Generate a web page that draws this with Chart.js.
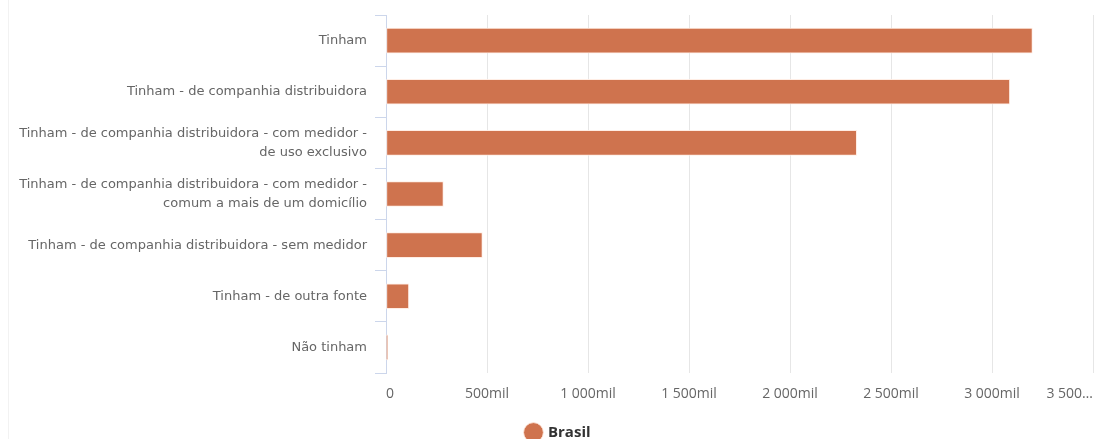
<!DOCTYPE html>
<html>
<head>
<meta charset="utf-8">
<script src="https://cdn.jsdelivr.net/npm/chart.js@4/dist/chart.umd.min.js"></script>
<style>
  html, body { margin: 0; padding: 0; background: #fff; overflow: hidden; }
  #wrap { position: relative; width: 1094px; height: 439px; overflow: hidden; }
  #wrap::before { content: ''; position: absolute; left: 8px; top: 0; bottom: 0; border-left: 1px solid #f2f2f2; }
  #chart { position: absolute; left: 0; top: 0; }
</style>
</head>
<body>
<div id="wrap"><canvas id="chart" width="1094" height="450"></canvas></div>
<script>
const categories = [
  'Tinham',
  'Tinham - de companhia distribuidora',
  ['Tinham - de companhia distribuidora - com medidor -', 'de uso exclusivo'],
  ['Tinham - de companhia distribuidora - com medidor -', 'comum a mais de um domicílio'],
  'Tinham - de companhia distribuidora - sem medidor',
  'Tinham - de outra fonte',
  'Não tinham'
];
const seriesName = 'Brasil';
const brasil = [3200000, 3088000, 2330000, 284000, 477000, 113000, 8000];
const xMax = 3500000;
const xStep = 500000;

const barColor = '#cf734e';

function formatMil(v) {
  const s = String(Math.round(v / 1000)).replace(/\B(?=(\d{3})+(?!\d))/g, ' ');
  return v === 0 ? '0' : s + 'mil';
}

// nudge the legend a little to the right of the canvas centre
const legendShift = {
  id: 'legendShift',
  afterLayout(chart) {
    if (chart.legend) chart.legend.left += 24;
  }
};

const ctx = document.getElementById('chart').getContext('2d');
new Chart(ctx, {
  type: 'bar',
  data: {
    labels: categories,
    datasets: [{
      label: seriesName,
      data: brasil,
      backgroundColor: barColor,
      borderColor: 'rgba(255,235,225,0.9)',
      borderWidth: 1,
      borderSkipped: false,
      barThickness: 25
    }]
  },
  plugins: [legendShift],
  options: {
    responsive: false,
    animation: false,
    indexAxis: 'y',
    layout: { padding: { top: 15, right: 1, bottom: 0, left: 0 } },
    plugins: {
      tooltip: { enabled: false },
      legend: {
        position: 'bottom',
        labels: {
          usePointStyle: true,
          pointStyle: 'circle',
          boxWidth: 14,
          boxHeight: 14,
          padding: 8,
          color: '#333',
          font: { family: 'Open Sans', size: 15, weight: 'bold' }
        }
      }
    },
    scales: {
      x: {
        min: 0,
        max: xMax,
        grid: { color: '#e6e6e6', drawTicks: false },
        border: { display: false },
        ticks: {
          stepSize: xStep,
          autoSkip: false,
          maxRotation: 0,
          align: 'inner',
          padding: 13,
          color: '#666',
          font: { family: 'Open Sans', size: 14 },
          callback: (v) => v >= xMax ? formatMil(v).replace('mil', '…') : formatMil(v)
        },
        afterFit: (scale) => {
          scale.height = 44;
          scale.paddingLeft = 0;
          scale.paddingRight = 0;
        }
      },
      y: {
        grid: {
          drawOnChartArea: false,
          drawTicks: true,
          tickLength: 11,
          color: '#ccd6eb'
        },
        border: { color: '#ccd6eb' },
        ticks: {
          color: '#666',
          padding: 8,
          font: { family: 'DejaVu Sans', size: 13, lineHeight: 1.45 }
        },
        afterFit: (scale) => {
          scale.width = 386;
          scale.paddingTop = 0;
          scale.paddingBottom = 0;
        }
      }
    }
  }
});
</script>
</body>
</html>
